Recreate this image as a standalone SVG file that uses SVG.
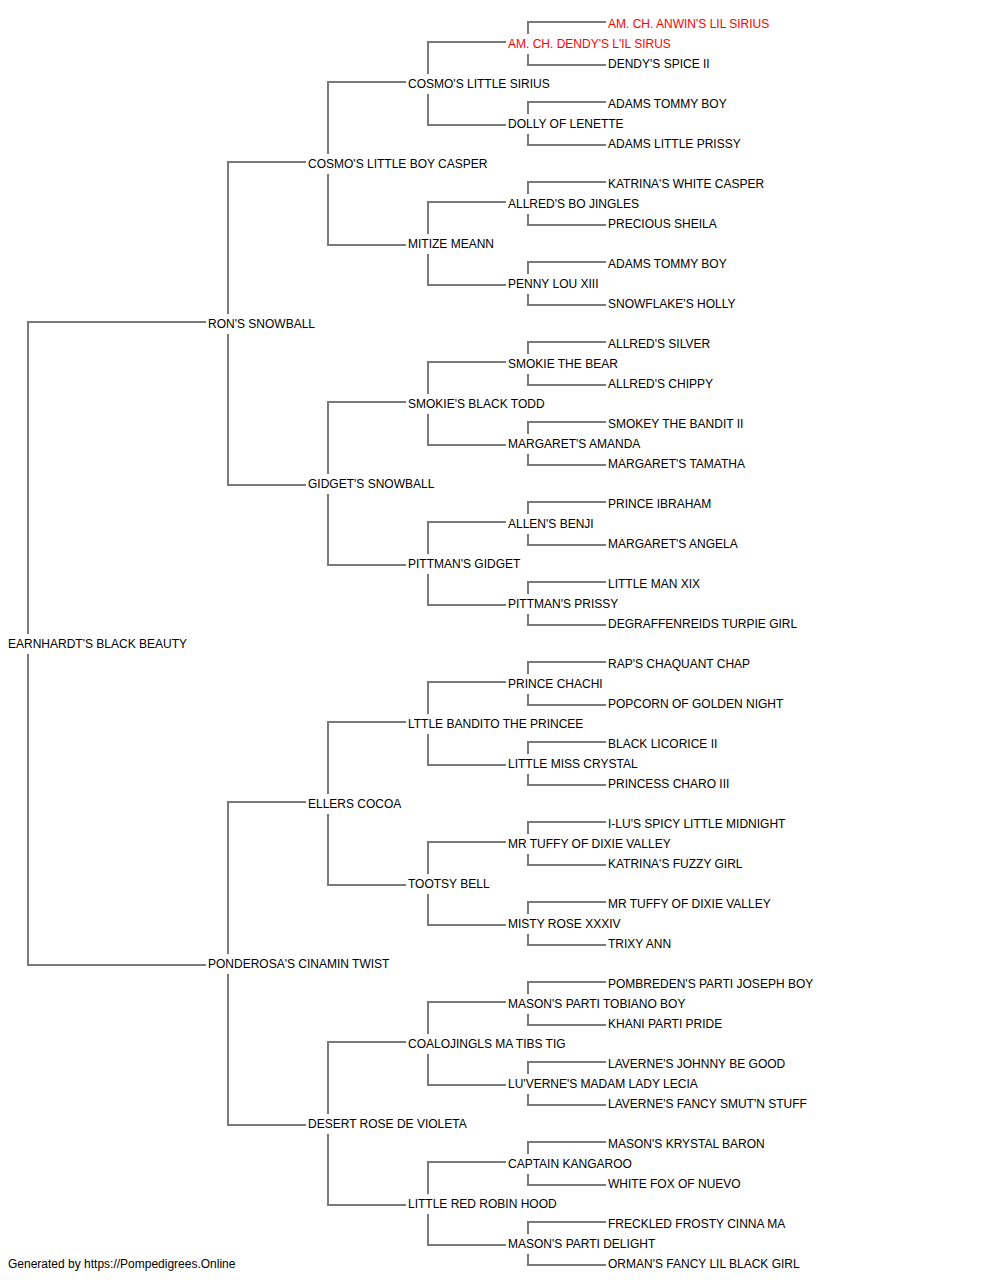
<svg xmlns="http://www.w3.org/2000/svg" width="1000" height="1280" viewBox="0 0 1000 1280">
<style>
text{font-family:"Liberation Sans",Arial,sans-serif;font-size:12px;fill:#000}
.red{fill:#ff0000}
.c path{fill:none;stroke:#7a7a7a;stroke-width:2}
</style>
<rect width="1000" height="1280" fill="#fff"/>
<g class="c" id="connectors">
<path d="M206,322 H28 V634 M28,654 V965 H206"/>
<path d="M306,162 H228 V314 M228,334 V485 H306"/>
<path d="M306,802 H228 V954 M228,974 V1125 H306"/>
<path d="M406,82 H328 V154 M328,174 V245 H406"/>
<path d="M406,402 H328 V474 M328,494 V565 H406"/>
<path d="M406,722 H328 V794 M328,814 V885 H406"/>
<path d="M406,1042 H328 V1114 M328,1134 V1205 H406"/>
<path d="M506,42 H428 V74 M428,94 V125 H506"/>
<path d="M506,202 H428 V234 M428,254 V285 H506"/>
<path d="M506,362 H428 V394 M428,414 V445 H506"/>
<path d="M506,522 H428 V554 M428,574 V605 H506"/>
<path d="M506,682 H428 V714 M428,734 V765 H506"/>
<path d="M506,842 H428 V874 M428,894 V925 H506"/>
<path d="M506,1002 H428 V1034 M428,1054 V1085 H506"/>
<path d="M506,1162 H428 V1194 M428,1214 V1245 H506"/>
<path d="M606,22 H528 V34 M528,54 V65 H606"/>
<path d="M606,102 H528 V114 M528,134 V145 H606"/>
<path d="M606,182 H528 V194 M528,214 V225 H606"/>
<path d="M606,262 H528 V274 M528,294 V305 H606"/>
<path d="M606,342 H528 V354 M528,374 V385 H606"/>
<path d="M606,422 H528 V434 M528,454 V465 H606"/>
<path d="M606,502 H528 V514 M528,534 V545 H606"/>
<path d="M606,582 H528 V594 M528,614 V625 H606"/>
<path d="M606,662 H528 V674 M528,694 V705 H606"/>
<path d="M606,742 H528 V754 M528,774 V785 H606"/>
<path d="M606,822 H528 V834 M528,854 V865 H606"/>
<path d="M606,902 H528 V914 M528,934 V945 H606"/>
<path d="M606,982 H528 V994 M528,1014 V1025 H606"/>
<path d="M606,1062 H528 V1074 M528,1094 V1105 H606"/>
<path d="M606,1142 H528 V1154 M528,1174 V1185 H606"/>
<path d="M606,1222 H528 V1234 M528,1254 V1265 H606"/>
</g>
<g id="n0"><text x="8" y="648">EARNHARDT'S BLACK BEAUTY</text></g>
<g id="n1"><text x="208" y="328">RON'S SNOWBALL</text></g>
<g id="n2"><text x="208" y="968">PONDEROSA'S CINAMIN TWIST</text></g>
<g id="n3"><text x="308" y="168">COSMO'S LITTLE BOY CASPER</text></g>
<g id="n4"><text x="308" y="488">GIDGET'S SNOWBALL</text></g>
<g id="n5"><text x="308" y="808">ELLERS COCOA</text></g>
<g id="n6"><text x="308" y="1128">DESERT ROSE DE VIOLETA</text></g>
<g id="n7"><text x="408" y="88">COSMO'S LITTLE SIRIUS</text></g>
<g id="n8"><text x="408" y="248">MITIZE MEANN</text></g>
<g id="n9"><text x="408" y="408">SMOKIE'S BLACK TODD</text></g>
<g id="n10"><text x="408" y="568">PITTMAN'S GIDGET</text></g>
<g id="n11"><text x="408" y="728">LTTLE BANDITO THE PRINCEE</text></g>
<g id="n12"><text x="408" y="888">TOOTSY BELL</text></g>
<g id="n13"><text x="408" y="1048">COALOJINGLS MA TIBS TIG</text></g>
<g id="n14"><text x="408" y="1208">LITTLE RED ROBIN HOOD</text></g>
<g id="n15"><text class="red" x="508" y="48">AM. CH. DENDY'S L'IL SIRUS</text></g>
<g id="n16"><text x="508" y="128">DOLLY OF LENETTE</text></g>
<g id="n17"><text x="508" y="208">ALLRED'S BO JINGLES</text></g>
<g id="n18"><text x="508" y="288">PENNY LOU XIII</text></g>
<g id="n19"><text x="508" y="368">SMOKIE THE BEAR</text></g>
<g id="n20"><text x="508" y="448">MARGARET'S AMANDA</text></g>
<g id="n21"><text x="508" y="528">ALLEN'S BENJI</text></g>
<g id="n22"><text x="508" y="608">PITTMAN'S PRISSY</text></g>
<g id="n23"><text x="508" y="688">PRINCE CHACHI</text></g>
<g id="n24"><text x="508" y="768">LITTLE MISS CRYSTAL</text></g>
<g id="n25"><text x="508" y="848">MR TUFFY OF DIXIE VALLEY</text></g>
<g id="n26"><text x="508" y="928">MISTY ROSE XXXIV</text></g>
<g id="n27"><text x="508" y="1008">MASON'S PARTI TOBIANO BOY</text></g>
<g id="n28"><text x="508" y="1088">LU'VERNE'S MADAM LADY LECIA</text></g>
<g id="n29"><text x="508" y="1168">CAPTAIN KANGAROO</text></g>
<g id="n30"><text x="508" y="1248">MASON'S PARTI DELIGHT</text></g>
<g id="n31"><text class="red" x="608" y="28">AM. CH. ANWIN'S LIL SIRIUS</text></g>
<g id="n32"><text x="608" y="68">DENDY'S SPICE II</text></g>
<g id="n33"><text x="608" y="108">ADAMS TOMMY BOY</text></g>
<g id="n34"><text x="608" y="148">ADAMS LITTLE PRISSY</text></g>
<g id="n35"><text x="608" y="188">KATRINA'S WHITE CASPER</text></g>
<g id="n36"><text x="608" y="228">PRECIOUS SHEILA</text></g>
<g id="n37"><text x="608" y="268">ADAMS TOMMY BOY</text></g>
<g id="n38"><text x="608" y="308">SNOWFLAKE'S HOLLY</text></g>
<g id="n39"><text x="608" y="348">ALLRED'S SILVER</text></g>
<g id="n40"><text x="608" y="388">ALLRED'S CHIPPY</text></g>
<g id="n41"><text x="608" y="428">SMOKEY THE BANDIT II</text></g>
<g id="n42"><text x="608" y="468">MARGARET'S TAMATHA</text></g>
<g id="n43"><text x="608" y="508">PRINCE IBRAHAM</text></g>
<g id="n44"><text x="608" y="548">MARGARET'S ANGELA</text></g>
<g id="n45"><text x="608" y="588">LITTLE MAN XIX</text></g>
<g id="n46"><text x="608" y="628">DEGRAFFENREIDS TURPIE GIRL</text></g>
<g id="n47"><text x="608" y="668">RAP'S CHAQUANT CHAP</text></g>
<g id="n48"><text x="608" y="708">POPCORN OF GOLDEN NIGHT</text></g>
<g id="n49"><text x="608" y="748">BLACK LICORICE II</text></g>
<g id="n50"><text x="608" y="788">PRINCESS CHARO III</text></g>
<g id="n51"><text x="608" y="828">I-LU'S SPICY LITTLE MIDNIGHT</text></g>
<g id="n52"><text x="608" y="868">KATRINA'S FUZZY GIRL</text></g>
<g id="n53"><text x="608" y="908">MR TUFFY OF DIXIE VALLEY</text></g>
<g id="n54"><text x="608" y="948">TRIXY ANN</text></g>
<g id="n55"><text x="608" y="988">POMBREDEN'S PARTI JOSEPH BOY</text></g>
<g id="n56"><text x="608" y="1028">KHANI PARTI PRIDE</text></g>
<g id="n57"><text x="608" y="1068">LAVERNE'S JOHNNY BE GOOD</text></g>
<g id="n58"><text x="608" y="1108">LAVERNE'S FANCY SMUT'N STUFF</text></g>
<g id="n59"><text x="608" y="1148">MASON'S KRYSTAL BARON</text></g>
<g id="n60"><text x="608" y="1188">WHITE FOX OF NUEVO</text></g>
<g id="n61"><text x="608" y="1228">FRECKLED FROSTY CINNA MA</text></g>
<g id="n62"><text x="608" y="1268">ORMAN'S FANCY LIL BLACK GIRL</text></g>
<text x="8" y="1268">Generated by https://Pompedigrees.Online</text>
</svg>
